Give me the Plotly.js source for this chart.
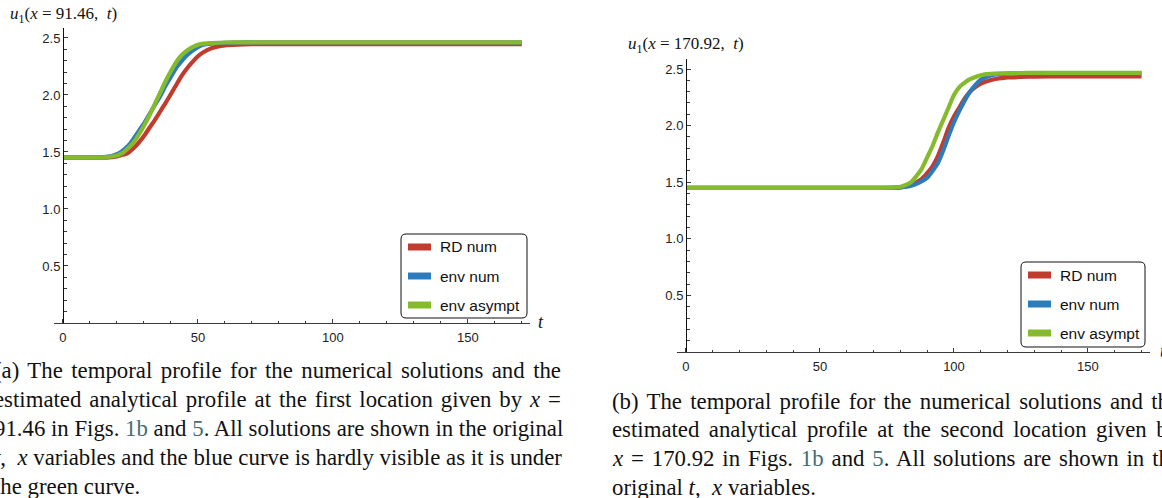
<!DOCTYPE html>
<html>
<head>
<meta charset="utf-8">
<script src="https://cdn.plot.ly/plotly-3.0.1.min.js"></script>
<style>
  html, body { margin: 0; padding: 0; background: #fff; overflow: hidden; }
  #plot { width: 1162px; height: 498px; }
</style>
</head>
<body>
<div id="plot"></div>
<script>
// ---- temporal profiles at x = 91.46 ----
const tFirst   = [0, 5, 10, 15, 18, 20, 22, 24, 26, 28, 30, 32, 34, 36, 38, 40, 42, 44, 46, 48, 50, 52, 55, 60, 65, 70, 80, 100, 120, 140, 160, 170];
const rdFirst  = [1.45, 1.45, 1.45, 1.45, 1.455, 1.46, 1.475, 1.49, 1.53, 1.58, 1.64, 1.71, 1.78, 1.855, 1.93, 2.01, 2.09, 2.17, 2.235, 2.29, 2.34, 2.375, 2.41, 2.435, 2.442, 2.445, 2.446, 2.446, 2.446, 2.446, 2.446, 2.446];
const envFirst = [1.45, 1.45, 1.45, 1.455, 1.465, 1.48, 1.51, 1.55, 1.61, 1.68, 1.75, 1.83, 1.91, 1.99, 2.08, 2.16, 2.24, 2.30, 2.35, 2.39, 2.42, 2.44, 2.45, 2.458, 2.46, 2.461, 2.461, 2.461, 2.461, 2.461, 2.461, 2.461];
const asyFirst = [1.45, 1.45, 1.45, 1.452, 1.46, 1.47, 1.49, 1.53, 1.58, 1.65, 1.73, 1.82, 1.92, 2.02, 2.12, 2.21, 2.29, 2.35, 2.39, 2.42, 2.44, 2.45, 2.455, 2.46, 2.461, 2.462, 2.462, 2.462, 2.462, 2.462, 2.462, 2.462];

// ---- temporal profiles at x = 170.92 ----
const tSecond   = [0, 20, 40, 60, 70, 75, 78, 80, 82, 84, 86, 88, 90, 92, 94, 96, 98, 100, 102, 104, 106, 108, 110, 112, 115, 118, 120, 125, 130, 140, 150, 160, 170];
const rdSecond  = [1.45, 1.45, 1.45, 1.45, 1.45, 1.45, 1.452, 1.455, 1.462, 1.475, 1.50, 1.53, 1.58, 1.64, 1.73, 1.85, 1.98, 2.08, 2.16, 2.24, 2.30, 2.34, 2.37, 2.39, 2.41, 2.42, 2.425, 2.43, 2.433, 2.435, 2.436, 2.436, 2.436];
const envSecond = [1.45, 1.45, 1.45, 1.45, 1.45, 1.45, 1.452, 1.455, 1.46, 1.47, 1.485, 1.51, 1.54, 1.60, 1.67, 1.78, 1.91, 2.03, 2.13, 2.22, 2.30, 2.36, 2.405, 2.43, 2.45, 2.457, 2.46, 2.462, 2.463, 2.463, 2.463, 2.463, 2.463];
const asySecond = [1.45, 1.45, 1.45, 1.45, 1.45, 1.452, 1.455, 1.46, 1.475, 1.50, 1.555, 1.62, 1.72, 1.82, 1.94, 2.05, 2.16, 2.27, 2.34, 2.38, 2.41, 2.43, 2.445, 2.455, 2.46, 2.462, 2.463, 2.465, 2.466, 2.466, 2.466, 2.466, 2.466];

const seriesNames  = ['RD num', 'env num', 'env asympt'];
const seriesColors = ['#c13b2e', '#2c7cbc', '#86ba2d'];

const xTickVals = [0, 50, 100, 150];
const yTickVals = [0.5, 1.0, 1.5, 2.0, 2.5];

const titleFirst  = '<i>u</i><sub>1</sub>(<i>x</i> = 91.46,  <i>t</i>)';
const titleSecond = '<i>u</i><sub>1</sub>(<i>x</i> = 170.92,  <i>t</i>)';
const axisLabel   = '<i>t</i>';

const linkA = '<span style="color:#3f6f74">1b</span>';
const linkB = '<span style="color:#3f6f74">5</span>';
const captionFirst = [
  '(a) The temporal profile for the numerical solutions and the',
  'estimated analytical profile at the first location given by <i>x</i> =',
  '91.46 in Figs. ' + linkA + ' and ' + linkB + '. All solutions are shown in the original',
  '<i>t</i>,  <i>x</i> variables and the blue curve is hardly visible as it is under',
  'the green curve.'
];
const captionSecond = [
  '(b) The temporal profile for the numerical solutions and the',
  'estimated analytical profile at the second location given by',
  '<i>x</i> = 170.92 in Figs. ' + linkA + ' and ' + linkB + '. All solutions are shown in the',
  'original <i>t</i>,  <i>x</i> variables.'
];

// ---- page geometry (pixels) ----
const W = 1162, H = 498;
const px = v => v / W;
const py = v => 1 - v / H;

const panels = [
  { t: tFirst, ys: [rdFirst, envFirst, asyFirst], title: titleFirst,
    left: 53.8, right: 530, top: 27.7, bottom: 323, tMin: -3.4, tMax: 173, yMax: 2.59, axisAt: 63,
    titleX: 8, titleY: 15, tLabelX: 541, tLabelY: 322,
    legend: { x0: 401, x1: 527, y0: 234, y1: 318, rows: [247, 276, 305] } },
  { t: tSecond, ys: [rdSecond, envSecond, asySecond], title: titleSecond,
    left: 676.6, right: 1149.6, top: 59.3, bottom: 352, tMin: -3.5, tMax: 173, yMax: 2.586, axisAt: 686,
    titleX: 626, titleY: 45, tLabelX: 1163, tLabelY: 351,
    legend: { x0: 1021, x1: 1145, y0: 262, y1: 347, rows: [275, 304, 333] } }
];

const traces = [];
const layout = {
  width: W, height: H,
  margin: { l: 0, r: 0, t: 0, b: 0 },
  paper_bgcolor: '#ffffff',
  plot_bgcolor: 'rgba(0,0,0,0)',
  showlegend: false,
  annotations: [],
  shapes: []
};

const tickFont = { family: 'Liberation Sans, Arial, sans-serif', size: 13, color: '#222' };
const serif = 'Liberation Serif, Times New Roman, serif';

// rounded rectangle in pixel space, returned as a paper-space path
function roundedBox(x0, y0, x1, y1, r) {
  const P = (x, y) => px(x) + ',' + py(y);
  return 'M' + P(x0 + r, y0) + ' L' + P(x1 - r, y0) + ' Q' + P(x1, y0) + ' ' + P(x1, y0 + r) +
         ' L' + P(x1, y1 - r) + ' Q' + P(x1, y1) + ' ' + P(x1 - r, y1) +
         ' L' + P(x0 + r, y1) + ' Q' + P(x0, y1) + ' ' + P(x0, y1 - r) +
         ' L' + P(x0, y0 + r) + ' Q' + P(x0, y0) + ' ' + P(x0 + r, y0) + ' Z';
}

panels.forEach((p, i) => {
  const xa = i === 0 ? 'x' : 'x2';
  const ya = i === 0 ? 'y' : 'y2';
  const xKey = i === 0 ? 'xaxis' : 'xaxis2';
  const yKey = i === 0 ? 'yaxis' : 'yaxis2';

  p.ys.forEach((vals, k) => {
    traces.push({
      type: 'scatter', mode: 'lines', x: p.t, y: vals, xaxis: xa, yaxis: ya,
      name: seriesNames[k],
      line: { color: seriesColors[k], width: 4.2, shape: 'spline', smoothing: 0.7 },
      hoverinfo: 'skip'
    });
  });

  layout[xKey] = {
    domain: [px(p.left), px(p.right)], range: [p.tMin, p.tMax], anchor: ya,
    showline: true, linecolor: '#3a3a3a', linewidth: 1,
    showgrid: false, zeroline: false,
    tickmode: 'array', tickvals: xTickVals,
    ticks: 'inside', ticklen: 4, tickwidth: 1, tickcolor: '#3a3a3a',
    minor: { tickmode: 'linear', tick0: 0, dtick: 10, ticks: 'inside', ticklen: 2.5, tickwidth: 1, tickcolor: '#3a3a3a', showgrid: false },
    tickfont: tickFont, ticklabelstandoff: 2
  };
  layout[yKey] = {
    domain: [py(p.bottom), py(p.top)], range: [0, p.yMax], anchor: 'free', position: px(p.axisAt),
    showline: true, linecolor: '#111', linewidth: 1,
    showgrid: false, zeroline: false,
    tickmode: 'array', tickvals: yTickVals, tickformat: '.1f',
    ticks: 'inside', ticklen: 4, tickwidth: 1, tickcolor: '#3a3a3a',
    minor: { tickmode: 'linear', tick0: 0, dtick: 0.1, ticks: 'inside', ticklen: 2.5, tickwidth: 1, tickcolor: '#3a3a3a', showgrid: false },
    tickfont: tickFont
  };

  // title above the vertical axis
  layout.annotations.push({
    xref: 'paper', yref: 'paper', x: px(p.titleX), y: py(p.titleY),
    xanchor: 'left', yanchor: 'middle', showarrow: false,
    text: p.title, font: { family: serif, size: 17, color: '#111' }
  });
  // horizontal axis label
  layout.annotations.push({
    xref: 'paper', yref: 'paper', x: px(p.tLabelX), y: py(p.tLabelY),
    xanchor: 'center', yanchor: 'middle', showarrow: false,
    text: axisLabel, font: { family: serif, size: 18, color: '#111' }
  });

  // legend frame, swatches and labels
  const L = p.legend;
  layout.shapes.push({
    type: 'path', xref: 'paper', yref: 'paper', path: roundedBox(L.x0, L.y0, L.x1, L.y1, 5),
    line: { color: '#111', width: 1 }, fillcolor: '#fff'
  });
  L.rows.forEach((yy, k) => {
    layout.shapes.push({
      type: 'rect', xref: 'paper', yref: 'paper',
      x0: px(L.x0 + 7), x1: px(L.x0 + 30), y0: py(yy + 3.5), y1: py(yy - 3.5),
      line: { width: 0 }, fillcolor: seriesColors[k]
    });
    layout.annotations.push({
      xref: 'paper', yref: 'paper', x: px(L.x0 + 37), y: py(yy),
      xanchor: 'left', yanchor: 'middle', showarrow: false,
      text: seriesNames[k], font: { family: 'Liberation Sans, Arial, sans-serif', size: 15.5, color: '#111' }
    });
  });
});

// captions below each panel; all lines but the last are set full width
const justify = {};
function addCaption(lines, x0, firstY, step, width) {
  lines.forEach((ln, k) => {
    const idx = layout.annotations.length;
    layout.annotations.push({
      xref: 'paper', yref: 'paper', x: px(x0 - 2), y: py(firstY + k * step),
      xanchor: 'left', yanchor: 'middle', align: 'left', showarrow: false,
      text: ln, font: { family: serif, size: 22.8, color: '#111' }
    });
    if (k < lines.length - 1) justify[idx] = width;
  });
}
addCaption(captionFirst, -6, 370, 29, 567);
addCaption(captionSecond, 612, 401, 28.7, 567);

const gd = document.getElementById('plot');
Plotly.newPlot(gd, traces, layout, { staticPlot: true, displayModeBar: false }).then(() => {
  gd.querySelectorAll('g.annotation').forEach(g => {
    const idx = +g.getAttribute('data-index');
    const target = justify[idx];
    if (!target) return;
    const txt = g.querySelector('text.annotation-text');
    if (!txt) return;
    const natural = txt.getComputedTextLength();
    const gaps = (txt.textContent.match(/ /g) || []).length;
    if (gaps > 0 && target > natural) txt.style.wordSpacing = ((target - natural) / gaps) + 'px';
  });
});
</script>
</body>
</html>
